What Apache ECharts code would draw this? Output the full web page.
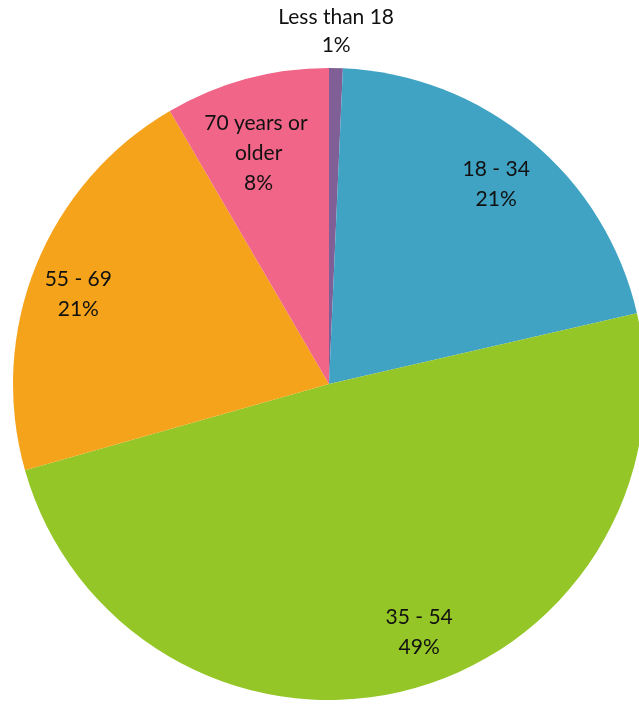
<!DOCTYPE html>
<html>
<head>
<meta charset="utf-8">
<script src="https://cdn.jsdelivr.net/npm/echarts@6/dist/echarts.min.js"></script>
<style>
  html, body { margin: 0; padding: 0; background: #ffffff; }
  #chart { width: 639px; height: 704px; }
</style>
</head>
<body>
<div id="chart"></div>
<script>
// Age groups, shares (in %), and slice colours
const categories = ['Less than 18', '18 - 34', '35 - 54', '55 - 69', '70 years or older'];
const shares = [0.7, 20.7, 49.2, 21.0, 8.4];
const colors = ['#7f5f96', '#40a3c3', '#94c627', '#f5a31b', '#f06588'];

const FONT = 'Lato, "Open Sans", sans-serif';
const CENTER = [329, 384];
const R = 316;

// small nudges of the inside labels so they sit nicely in their slices
const labelNudge = [[0, 0], [-3, 5], [24, -9], [-4, 10], [-1, 26]];

const data = categories.map((name, i) => ({ name, value: shares[i] }));

const labelFormatter = p => p.name + '\n' + Math.round(p.percent) + '%';

const chart = echarts.init(document.getElementById('chart'), null, { renderer: 'canvas' });
chart.setOption({
  animation: false,
  color: colors,
  series: [
    {
      // the coloured slices
      type: 'pie',
      center: CENTER,
      radius: [0, R],
      startAngle: 90,
      clockwise: true,
      silent: true,
      label: { show: false },
      labelLine: { show: false },
      itemStyle: { borderWidth: 0 },
      data: data
    },
    {
      // transparent ring that carries the data labels at ~0.83 of the radius
      type: 'pie',
      center: CENTER,
      radius: [210, R],
      startAngle: 90,
      clockwise: true,
      silent: true,
      avoidLabelOverlap: false,
      minShowLabelAngle: 0,
      itemStyle: { color: 'rgba(0,0,0,0)', borderWidth: 0 },
      label: {
        show: true,
        position: 'inside',
        formatter: labelFormatter,
        fontFamily: FONT,
        fontSize: 21,
        lineHeight: 30,
        color: '#111111',
        width: 124,
        overflow: 'break',
        align: 'center'
      },
      labelLine: { show: false },
      labelLayout: function (params) {
        const i = params.dataIndex;
        if (i === 0) {
          return { align: 'center', verticalAlign: 'bottom' };
        }
        return { dx: labelNudge[i][0], dy: labelNudge[i][1] };
      },
      data: data.map((d, i) => i === 0 ? {
        name: d.name,
        value: d.value,
        label: {
          position: 'outside',
          width: 200,
          lineHeight: 28,
          distanceToLabelLine: 0
        },
        labelLine: { show: false, length: 9, length2: 0 }
      } : d)
    }
  ]
});
</script>
</body>
</html>
